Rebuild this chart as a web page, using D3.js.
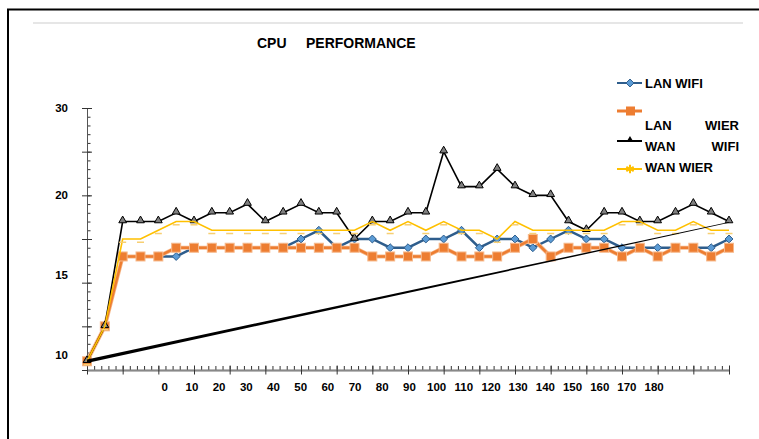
<!DOCTYPE html>
<html>
<head>
<meta charset="utf-8">
<script src="https://cdn.jsdelivr.net/npm/d3@7"></script>
<style>
  body { margin: 0; background: #fff; }
  text { font-family: "Liberation Sans", Arial, sans-serif; font-weight: bold; fill: #000; }
</style>
</head>
<body>
<svg id="chart" width="759" height="439"></svg>
<script>
// values, in axis units (one minor tick = 1)
const seriesNames = ["LAN WIFI", "LAN WIER", "WAN WIFI", "WAN WIER"];
const lanWifi = [1, 5, 13, 13, 13, 13, 14, 14, 14, 14, 14, 14, 15, 16, 14, 15, 15, 14, 14, 15, 15, 16, 14, 15, 15, 14, 15, 16, 15, 15, 14, 14, 14, 14, 14, 14, 15];
const lanWier = [1, 5, 13, 13, 13, 14, 14, 14, 14, 14, 14, 14, 14, 14, 14, 14, 13, 13, 13, 13, 14, 13, 13, 13, 14, 15, 13, 14, 14, 14, 13, 14, 13, 14, 14, 13, 14];
const wanWifi = [1, 5, 17, 17, 17, 18, 17, 18, 18, 19, 17, 18, 19, 18, 18, 15, 17, 17, 18, 18, 25, 21, 21, 23, 21, 20, 20, 17, 16, 18, 18, 17, 17, 18, 19, 18, 17];
const wanWier = [1, 5, 15, 15, 16, 17, 17, 16, 16, 16, 16, 16, 16, 16, 16, 16, 17, 16, 17, 16, 17, 16, 16, 15, 17, 16, 16, 16, 16, 16, 17, 17, 16, 16, 17, 16, 16];
const trendEnds = [1, 16.9]; // straight trend line, first and last sample
const xLabels = ["0", "10", "20", "30", "40", "50", "60", "70", "80", "90", "100", "110", "120", "130", "140", "150", "160", "170", "180"];
const yLabels = ["30", "20", "15", "10"];
const yLabelAt = [30, 20, 10.9, 1.7]; // labels sit off the major ticks in the original

const svg = d3.select("#chart");

// outer frame + faint line under it
svg.append("path")
  .attr("d", "M8,439V9.5H759")
  .attr("fill", "none")
  .attr("stroke", "#000")
  .attr("stroke-width", 2);
svg.append("line")
  .attr("x1", 33).attr("x2", 743).attr("y1", 23).attr("y2", 23)
  .attr("stroke", "#e6e6e6").attr("stroke-width", 2);

// title
svg.append("text").attr("x", 257).attr("y", 48).style("font-size", "14px").text("CPU");
svg.append("text").attr("x", 306).attr("y", 48).style("font-size", "14px").text("PERFORMANCE");

const x = d3.scaleLinear().domain([0, lanWifi.length - 1]).range([87, 729]);
const y = d3.scaleLinear().domain([0, 30]).range([370, 108]);

// y axis: major ticks cross the line, minor ticks to the right
const yAxisG = svg.append("g").attr("transform", "translate(87,0)");
yAxisG.append("g")
  .call(d3.axisRight(y).tickValues(d3.range(0, 31, 1)).tickSize(3.5).tickSizeOuter(0).tickFormat(""));
yAxisG.append("g")
  .call(d3.axisLeft(y).tickValues(d3.range(0, 31, 5)).tickSize(5).tickSizeOuter(0).tickFormat(""));
yAxisG.append("g")
  .call(d3.axisRight(y).tickValues(d3.range(0, 31, 5)).tickSize(5).tickSizeOuter(0).tickFormat(""));
yAxisG.selectAll(".domain").attr("stroke", "#555");
yAxisG.selectAll(".tick line").attr("stroke", "#333");

svg.selectAll(".ylab")
  .data(yLabels)
  .enter()
  .append("text")
  .attr("class", "ylab")
  .attr("x", 68)
  .attr("y", (d, i) => y(yLabelAt[i]) + 4)
  .attr("text-anchor", "end")
  .style("font-size", "11.5px")
  .text((d) => d);

// x axis: minor ticks above, major ticks crossing
const xAxisG = svg.append("g").attr("transform", "translate(0,370)");
xAxisG.append("g")
  .call(d3.axisTop(x).tickValues(d3.range(0, 36.01, 0.4)).tickSize(4).tickSizeOuter(0).tickFormat(""));
xAxisG.append("g")
  .call(d3.axisTop(x).tickValues(d3.range(0, 37, 2)).tickSize(4.5).tickSizeOuter(0).tickFormat(""));
xAxisG.append("g")
  .call(d3.axisBottom(x).tickValues(d3.range(0, 37, 2)).tickSize(4.5).tickSizeOuter(0).tickFormat(""));
xAxisG.selectAll(".domain").attr("stroke", "#888").attr("stroke-width", 1.5);
xAxisG.selectAll(".tick line").attr("stroke", "#333");

const xLab = d3.scalePoint().domain(xLabels).range([x(4.36), x(31.8)]);
svg.selectAll(".xlab")
  .data(xLabels)
  .enter()
  .append("text")
  .attr("class", "xlab")
  .attr("x", (d) => xLab(d))
  .attr("y", 391)
  .attr("text-anchor", "middle")
  .style("font-size", "11.5px")
  .text((d) => d);

const line = d3.line().x((d, i) => x(i)).y((d) => y(d));

// LAN WIFI
svg.append("path").datum(lanWifi)
  .attr("d", line).attr("fill", "none")
  .attr("stroke", "#2e5d8c").attr("stroke-width", 2.5);
svg.selectAll(".lanwifi").data(lanWifi).enter().append("path")
  .attr("class", "lanwifi")
  .attr("transform", (d, i) => `translate(${x(i)},${y(d)})`)
  .attr("d", d3.symbol(d3.symbolDiamond2, 40))
  .attr("fill", "#5b9bd5").attr("stroke", "#2e5d8c").attr("stroke-width", 1);

// LAN WIER
svg.append("path").datum(lanWier)
  .attr("d", line).attr("fill", "none")
  .attr("stroke", "#f6b98c").attr("stroke-width", 4);
svg.append("path").datum(lanWier)
  .attr("d", line).attr("fill", "none")
  .attr("stroke", "#ed7d31").attr("stroke-width", 2.5);
svg.selectAll(".lanwier").data(lanWier).enter().append("rect")
  .attr("class", "lanwier")
  .attr("x", (d, i) => x(i) - 4.5).attr("y", (d) => y(d) - 4.5)
  .attr("width", 9).attr("height", 9)
  .attr("fill", "#ed7d31").attr("stroke", "#f6b98c").attr("stroke-width", 1);

// WAN WIFI
svg.append("path").datum(wanWifi)
  .attr("d", line).attr("fill", "none")
  .attr("stroke", "#000").attr("stroke-width", 1.6);
svg.selectAll(".wanwifi").data(wanWifi).enter().append("path")
  .attr("class", "wanwifi")
  .attr("transform", (d, i) => `translate(${x(i)},${y(d) - 1})`)
  .attr("d", d3.symbol(d3.symbolTriangle, 26))
  .attr("fill", "#808080").attr("stroke", "#000").attr("stroke-width", 1);

// WAN WIER
svg.append("path").datum(wanWier)
  .attr("d", line).attr("fill", "none")
  .attr("stroke", "#ffc000").attr("stroke-width", 1.6);
svg.selectAll(".wanwier").data(wanWier).enter().append("rect")
  .attr("class", "wanwier")
  .attr("x", (d, i) => x(i) - 3.5).attr("y", (d) => y(d) + 2.5)
  .attr("width", 7).attr("height", 1.5)
  .attr("fill", "#f7cf73");

// trend line, tapering from left to right
const trend = [
  { i: 0, v: trendEnds[0], w: 3.4 },
  { i: lanWifi.length - 1, v: trendEnds[1], w: 0.9 },
];
svg.append("path").datum(trend)
  .attr("d", d3.area().x((d) => x(d.i)).y0((d) => y(d.v) - d.w / 2).y1((d) => y(d.v) + d.w / 2))
  .attr("fill", "#000");

// legend
const legend = svg.append("g");
const legendY = [83, 111, 141, 169];
const legendColors = ["#2e5d8c", "#ed7d31", "#000", "#ffc000"];
legendY.forEach((ly, k) => {
  legend.append("line")
    .attr("x1", 617).attr("x2", 642).attr("y1", ly).attr("y2", ly)
    .attr("stroke", legendColors[k]).attr("stroke-width", k === 1 ? 3 : 2);
});
legend.append("path").attr("transform", `translate(630,${legendY[0]})`)
  .attr("d", d3.symbol(d3.symbolDiamond2, 40))
  .attr("fill", "#5b9bd5").attr("stroke", "#2e5d8c");
legend.append("rect").attr("x", 626).attr("y", legendY[1] - 4.5)
  .attr("width", 9).attr("height", 9).attr("fill", "#ed7d31");
legend.append("path").attr("transform", `translate(630,${legendY[2] - 1})`)
  .attr("d", d3.symbol(d3.symbolTriangle, 22)).attr("fill", "#000");
legend.append("path").attr("transform", `translate(630,${legendY[3]})`)
  .attr("d", d3.symbol(d3.symbolAsterisk, 50))
  .attr("fill", "none").attr("stroke", "#ffc000").attr("stroke-width", 2);

// names as wrapped in the original box
const legendText = [
  [seriesNames[0], 645, 87.5, "start"],
  [seriesNames[1].split(" ")[0], 645, 129.5, "start"],
  [seriesNames[1].split(" ")[1], 739, 129.5, "end"],
  [seriesNames[2].split(" ")[0], 645, 151, "start"],
  [seriesNames[2].split(" ")[1], 739, 151, "end"],
  [seriesNames[3], 645, 172, "start"],
];
legend.selectAll("text").data(legendText).enter().append("text")
  .attr("x", (d) => d[1]).attr("y", (d) => d[2])
  .attr("text-anchor", (d) => d[3])
  .style("font-size", "13px")
  .text((d) => d[0]);
</script>
</body>
</html>
